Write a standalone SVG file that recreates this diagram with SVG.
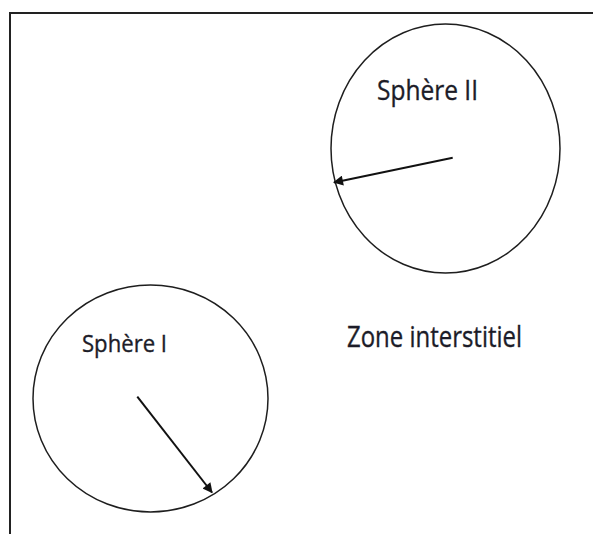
<svg xmlns="http://www.w3.org/2000/svg" width="593" height="534" viewBox="0 0 593 534">
  <style>
    .sphere { fill: none; stroke: #1e1e1e; stroke-width: 1.5; }
    .radius { fill: none; stroke: #111; stroke-width: 2; marker-end: url(#head); }
    .label { font-family: "Open Sans", "Liberation Sans", sans-serif; fill: #1c1c28; stroke: #1c1c28; stroke-width: 0.35; }
    .frame { fill: none; stroke: #222; stroke-width: 2; }
  </style>
  <defs>
    <marker id="head" viewBox="0 0 10 10" refX="9" refY="5" markerWidth="6.5" markerHeight="5" orient="auto" markerUnits="strokeWidth">
      <path d="M0,0 L10,5 L0,10 Z" fill="#111"/>
    </marker>
  </defs>
  <rect width="593" height="534" fill="#fff"/>

  <!-- outer frame, open on the right and bottom -->
  <path class="frame" d="M10,534 L10,13 L593,13"/>

  <g id="sphere-2">
    <ellipse class="sphere" cx="445.5" cy="148.5" rx="114.5" ry="124.5"/>
    <text class="label" x="377" y="100" font-size="28" textLength="101" lengthAdjust="spacingAndGlyphs">Sphère II</text>
  </g>

  <g id="sphere-1">
    <ellipse class="sphere" cx="150.5" cy="398.5" rx="117.5" ry="113.5"/>
    <text class="label" x="82" y="352" font-size="23" textLength="85" lengthAdjust="spacingAndGlyphs">Sphère I</text>
  </g>

  <g id="interstitial-zone">
    <text class="label" x="347" y="347" font-size="29" textLength="175" lengthAdjust="spacingAndGlyphs">Zone interstitiel</text>
  </g>

  <g id="connectors">
    <line class="radius" x1="452.7" y1="157.7" x2="334" y2="182.4"/>
    <line class="radius" x1="137.3" y1="396.7" x2="212" y2="492.5"/>
  </g>
</svg>
